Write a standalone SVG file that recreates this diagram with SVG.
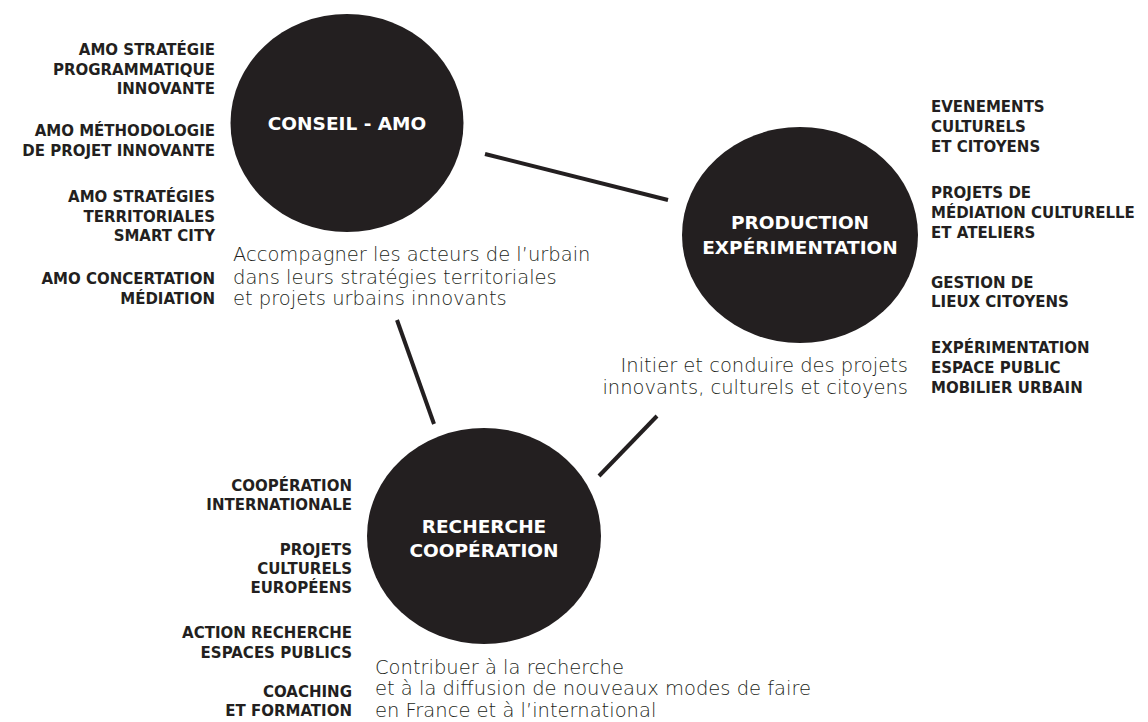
<svg xmlns="http://www.w3.org/2000/svg" width="1148" height="722" viewBox="0 0 1148 722">
<style>
.bg{fill:#ffffff}
.node{fill:#231f20}
.title{font-family:"DejaVu Sans",sans-serif;font-weight:bold;font-size:18.5px;fill:#ffffff;text-anchor:middle}
.lab{font-family:"DejaVu Sans",sans-serif;font-weight:bold;font-size:15px;fill:#231f20}
.end{text-anchor:end}
.desc{font-family:"DejaVu Sans",sans-serif;font-weight:200;font-size:19.5px;fill:#231f20}
.link{stroke:#231f20;stroke-width:4;fill:none}
</style>
<rect class="bg" x="0" y="0" width="1148" height="722"/>
<g id="connectors">
<line class="link" x1="485" y1="154" x2="668" y2="200"/>
<line class="link" x1="397" y1="320" x2="434" y2="424"/>
<line class="link" x1="657" y1="416" x2="599" y2="476"/>
</g>
<g id="node-conseil">
<ellipse class="node" cx="347" cy="123" rx="116.5" ry="109"/>
<text class="title" x="347" y="130">CONSEIL - AMO</text>
<text class="lab end" x="215" y="55">AMO STRATÉGIE</text>
<text class="lab end" x="215" y="74.5">PROGRAMMATIQUE</text>
<text class="lab end" x="215" y="94">INNOVANTE</text>
<text class="lab end" x="215" y="136">AMO MÉTHODOLOGIE</text>
<text class="lab end" x="215" y="155.5">DE PROJET INNOVANTE</text>
<text class="lab end" x="215" y="202">AMO STRATÉGIES</text>
<text class="lab end" x="215" y="221.5">TERRITORIALES</text>
<text class="lab end" x="215" y="241">SMART CITY</text>
<text class="lab end" x="215" y="283.5">AMO CONCERTATION</text>
<text class="lab end" x="215" y="304">MÉDIATION</text>
<text class="desc" x="233" y="261">Accompagner les acteurs de l’urbain</text>
<text class="desc" x="233" y="283.5">dans leurs stratégies territoriales</text>
<text class="desc" x="233" y="305">et projets urbains innovants</text>
</g>
<g id="node-production">
<ellipse class="node" cx="800" cy="235" rx="118" ry="108"/>
<text class="title" x="800" y="228.5">PRODUCTION</text>
<text class="title" x="800" y="254">EXPÉRIMENTATION</text>
<text class="lab" x="931" y="112">EVENEMENTS</text>
<text class="lab" x="931" y="132">CULTURELS</text>
<text class="lab" x="931" y="151.5">ET CITOYENS</text>
<text class="lab" x="931" y="198">PROJETS DE</text>
<text class="lab" x="931" y="218">MÉDIATION CULTURELLE</text>
<text class="lab" x="931" y="237.5">ET ATELIERS</text>
<text class="lab" x="931" y="287.5">GESTION DE</text>
<text class="lab" x="931" y="307">LIEUX CITOYENS</text>
<text class="lab" x="931" y="353">EXPÉRIMENTATION</text>
<text class="lab" x="931" y="372.5">ESPACE PUBLIC</text>
<text class="lab" x="931" y="392.5">MOBILIER URBAIN</text>
<text class="desc end" x="908" y="372">Initier et conduire des projets</text>
<text class="desc end" x="908" y="393.5">innovants, culturels et citoyens</text>
</g>
<g id="node-recherche">
<ellipse class="node" cx="484" cy="536" rx="117" ry="108"/>
<text class="title" x="484" y="533">RECHERCHE</text>
<text class="title" x="484" y="557">COOPÉRATION</text>
<text class="lab end" x="352" y="490.5">COOPÉRATION</text>
<text class="lab end" x="352" y="510">INTERNATIONALE</text>
<text class="lab end" x="352" y="555">PROJETS</text>
<text class="lab end" x="352" y="574">CULTURELS</text>
<text class="lab end" x="352" y="593">EUROPÉENS</text>
<text class="lab end" x="352" y="638">ACTION RECHERCHE</text>
<text class="lab end" x="352" y="657.5">ESPACES PUBLICS</text>
<text class="lab end" x="352" y="696.5">COACHING</text>
<text class="lab end" x="352" y="716">ET FORMATION</text>
<text class="desc" x="375" y="673.5">Contribuer à la recherche</text>
<text class="desc" x="375" y="695">et à la diffusion de nouveaux modes de faire</text>
<text class="desc" x="375" y="716.5">en France et à l’international</text>
</g>
</svg>
